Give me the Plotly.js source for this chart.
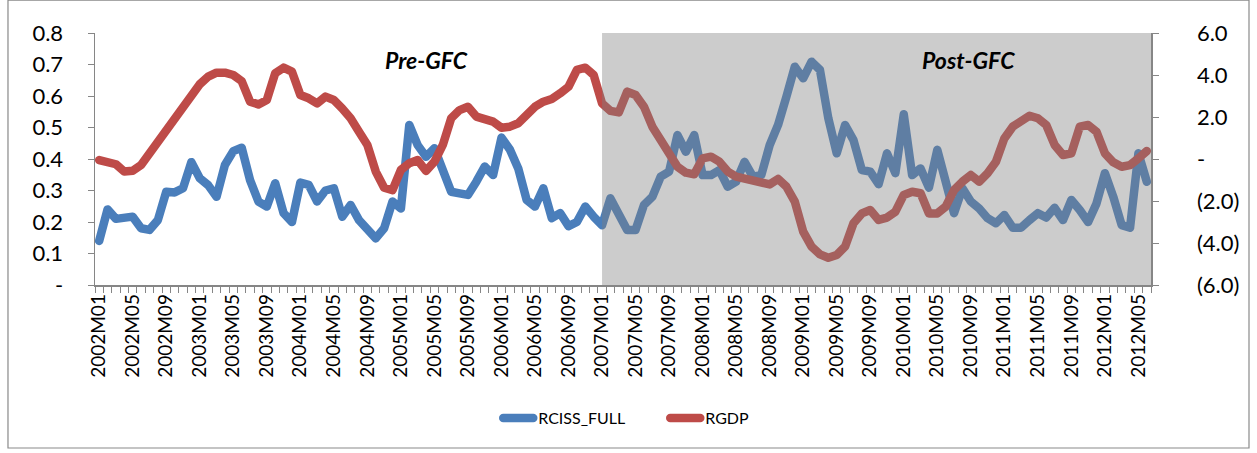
<!DOCTYPE html>
<html>
<head>
<meta charset="utf-8">
<script src="https://cdn.plot.ly/plotly-3.0.1.min.js"></script>
<style>
html,body{margin:0;padding:0;background:#fff;}
#chart{width:1257px;height:453px;}
#chart path.js-line{stroke-linejoin:round;stroke-linecap:round;}
</style>
</head>
<body>
<div id="chart"></div>
<script>
// Monthly categories 2002M01 .. 2012M06
const months = [];
for (let y = 2002; y <= 2012; y++) {
  for (let m = 1; m <= 12; m++) {
    if (y === 2012 && m > 6) break;
    months.push(y + 'M' + (m < 10 ? '0' + m : '' + m));
  }
}
const tickLabels = months.map((m, i) => (i % 4 === 0 ? m : ''));

const rcissFull = [
  0.14, 0.24, 0.21, 0.213, 0.217, 0.18, 0.175, 0.206, 0.296, 0.294, 0.307, 0.39, 0.339, 0.317, 0.28, 0.381, 0.425, 0.436, 0.333, 0.265, 0.249, 0.323, 0.228, 0.2, 0.325,
  0.318, 0.265, 0.30, 0.307, 0.217, 0.254, 0.206, 0.175, 0.148, 0.18, 0.265, 0.243, 0.508, 0.444, 0.407, 0.434, 0.37, 0.296, 0.291, 0.286, 0.328, 0.376, 0.349, 0.468, 0.43,
  0.37, 0.27, 0.249, 0.307, 0.212, 0.228, 0.187, 0.2, 0.249, 0.217, 0.19, 0.275, 0.217, 0.175, 0.175, 0.254, 0.28, 0.344, 0.36, 0.476, 0.423, 0.476, 0.349, 0.349, 0.365,
  0.312, 0.328, 0.391, 0.344, 0.349, 0.444, 0.508, 0.598, 0.693, 0.656, 0.709, 0.683, 0.529, 0.418, 0.508, 0.46, 0.365, 0.36, 0.32, 0.418, 0.355, 0.542, 0.349, 0.37, 0.309,
  0.429, 0.328, 0.228, 0.307, 0.265, 0.243, 0.212, 0.196, 0.222, 0.182, 0.182, 0.206, 0.228, 0.214, 0.245, 0.206, 0.27, 0.238, 0.2, 0.259, 0.355, 0.28, 0.19, 0.182, 0.418, 0.328
];

const rgdp = [
  -0.05, -0.16, -0.25, -0.6, -0.56, -0.29, 0.27, 0.75, 1.3, 1.86, 2.41, 2.97, 3.56, 3.92, 4.11, 4.11, 4.0, 3.71, 2.73, 2.6, 2.81, 4.08, 4.35, 4.16, 3.05,
  2.89, 2.65, 2.97, 2.81, 2.41, 1.94, 1.3, 0.67, -0.6, -1.37, -1.48, -0.52, -0.2, -0.05, -0.57, -0.13, 0.67, 1.94, 2.33, 2.49, 2.02, 1.94, 1.78, 1.49, 1.54,
  1.7, 2.17, 2.49, 2.73, 2.86, 3.13, 3.44, 4.24, 4.35, 4.0, 2.65, 2.29, 2.22, 3.21, 3.05, 2.49, 1.54, 0.9, 0.27, -0.37, -0.65, -0.73, 0.03, 0.11, -0.13,
  -0.6, -0.84, -0.92, -0.95, -1.08, -1.21, -0.95, -1.32, -2.03, -3.46, -4.17, -4.54, -4.7, -4.57, -4.17, -3.06, -2.59, -2.43, -2.9, -2.79, -2.51, -1.71, -1.56, -1.63, -2.59,
  -2.59, -2.27, -1.48, -1.08, -0.76, -1.08, -0.68, -0.13, 0.98, 1.54, 1.86, 2.06, 1.94, 1.62, 0.67, 0.19, 0.27, 1.54, 1.62, 1.3, 0.27, -0.16, -0.37, -0.29, 0.03, 0.38
];

const leftTicks = [0, 0.1, 0.2, 0.3, 0.4, 0.5, 0.6, 0.7, 0.8];
const leftTickText = ['-', '0.1', '0.2', '0.3', '0.4', '0.5', '0.6', '0.7', '0.8'];
const rightTicks = [-6, -4, -2, 0, 2, 4, 6];
const rightTickText = ['(6.0)', '(4.0)', '(2.0)', '-', '2.0', '4.0', '6.0'];

const periodStart = '2007M01';
const periodLabels = ['Pre-GFC', 'Post-GFC'];

const FONT = 'Lato, "Open Sans", sans-serif';
const AXC = '#868686';

const traces = [
  {
    x: months, y: rcissFull, name: 'RCISS_FULL', type: 'scatter', mode: 'lines',
    line: {color: '#4A7EBB', width: 8.5}, yaxis: 'y'
  },
  {
    x: months, y: rgdp, name: 'RGDP', type: 'scatter', mode: 'lines',
    line: {color: '#BE4B48', width: 8.5}, yaxis: 'y2'
  }
];

const layout = {
  width: 1257, height: 453,
  margin: {l: 95, r: 106, t: 33, b: 168, pad: 0},
  paper_bgcolor: '#ffffff', plot_bgcolor: '#ffffff',
  font: {family: FONT, color: '#000', size: 16},
  showlegend: true,
  legend: {
    orientation: 'h', x: 0.54, xanchor: 'center', y: -0.528, yanchor: 'middle',
    font: {family: FONT, size: 16, color: '#000'}, bgcolor: 'rgba(0,0,0,0)',
    entrywidth: 122, entrywidthmode: 'pixels'
  },
  xaxis: {
    type: 'category',
    tickmode: 'array', tickvals: months, ticktext: tickLabels,
    tickson: 'boundaries',
    ticks: 'outside', ticklen: 6, tickcolor: AXC, tickwidth: 1,
    tickangle: -90,
    tickfont: {family: FONT, size: 19, color: '#000'},
    showline: true, linecolor: AXC, linewidth: 1.5,
    showgrid: false, zeroline: false,
    range: [-0.5, months.length - 0.5],
    fixedrange: true
  },
  yaxis: {
    range: [0, 0.8],
    tickmode: 'array', tickvals: leftTicks, ticktext: leftTickText,
    ticks: 'outside', ticklen: 6, tickcolor: AXC,
    ticklabelstandoff: 20,
    tickfont: {family: FONT, size: 22, color: '#000'},
    showline: true, linecolor: AXC, linewidth: 1.5,
    showgrid: false, zeroline: false, fixedrange: true
  },
  yaxis2: {
    range: [-6, 6], overlaying: 'y', side: 'right',
    tickmode: 'array', tickvals: rightTicks, ticktext: rightTickText,
    ticks: 'outside', ticklen: 6, tickcolor: AXC,
    ticklabelstandoff: 34,
    tickfont: {family: FONT, size: 22, color: '#000'},
    showline: true, linecolor: AXC, linewidth: 1.5,
    showgrid: false, zeroline: false, fixedrange: true
  },
  shapes: [
    {
      type: 'rect', xref: 'x', yref: 'paper',
      x0: periodStart, x1: months.length - 0.5, y0: 0, y1: 1,
      fillcolor: 'rgba(128,128,128,0.4)', line: {width: 0}, layer: 'above'
    },
    {
      type: 'rect', xref: 'paper', yref: 'paper',
      x0: -0.0824, x1: 1.0928, y0: -0.6468, y1: 1.13,
      line: {color: '#8a8a8a', width: 1.2}, fillcolor: 'rgba(0,0,0,0)', layer: 'below'
    }
  ],
  annotations: [
    {
      text: '<b><i>' + periodLabels[0] + '</i></b>', xref: 'paper', yref: 'paper',
      x: 0.314, y: 0.893, showarrow: false, xanchor: 'center', yanchor: 'middle',
      font: {family: FONT, size: 23, color: '#000'}
    },
    {
      text: '<b><i>' + periodLabels[1] + '</i></b>', xref: 'paper', yref: 'paper',
      x: 0.827, y: 0.893, showarrow: false, xanchor: 'center', yanchor: 'middle',
      font: {family: FONT, size: 23, color: '#000'}
    }
  ]
};

Plotly.newPlot('chart', traces, layout, {displayModeBar: false, staticPlot: true});
</script>
</body>
</html>
